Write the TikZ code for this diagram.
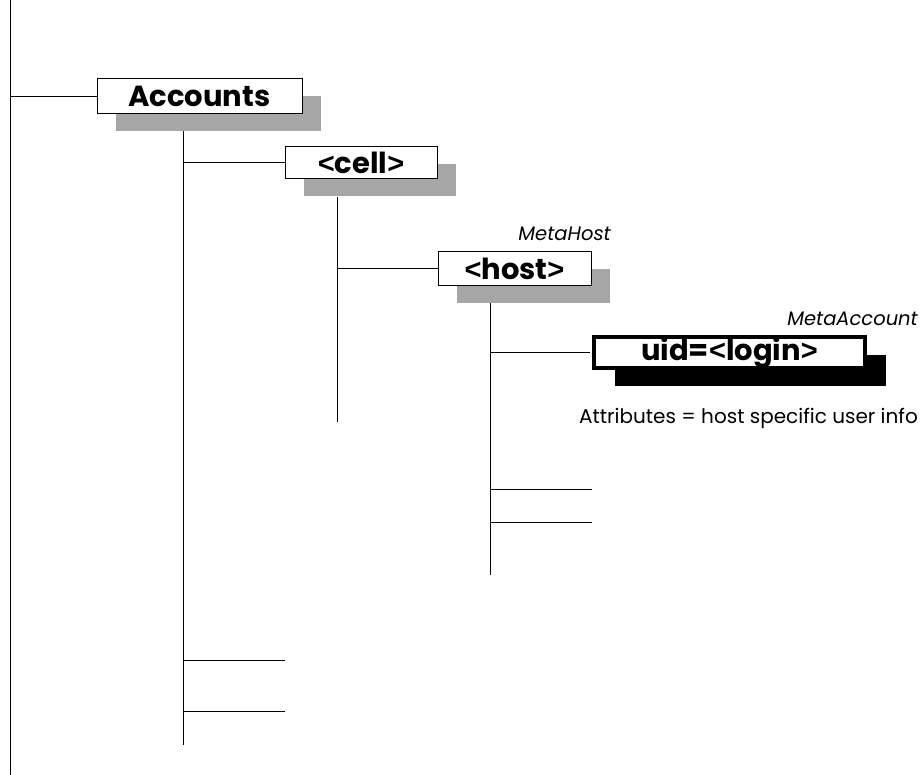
\documentclass[tikz,border=0pt]{standalone}
\usepackage{fontspec}
\setmainfont{Poppins}
\newfontfamily\anglefont{Liberation Sans}
\newcommand\ltsign{{\anglefont<}}
\newcommand\gtsign{{\anglefont>}}
\usetikzlibrary{calc,shadows}
\definecolor{shadowgray}{RGB}{166,166,166}
\tikzset{
  link/.style={line width=1pt, black},
  grayentry/.style={draw, line width=1pt, fill=white, inner sep=0pt,
    font=\bfseries\fontsize{29}{29}\selectfont,
    general shadow={fill=shadowgray, shadow xshift=19pt, shadow yshift=-17pt}},
  blackentry/.style={draw, line width=4pt, fill=white, inner sep=0pt,
    font=\bfseries\fontsize{29}{29}\selectfont,
    general shadow={fill=black, shadow xshift=21pt, shadow yshift=-18pt}},
  classlabel/.style={font=\itshape\fontsize{19.5}{19.5}\selectfont, anchor=base east, inner sep=0pt},
  note/.style={font=\fontsize{20}{20}\selectfont, anchor=base east, inner sep=0pt},
}
\begin{document}
\begin{tikzpicture}[x=1pt,y=-1pt]
\useasboundingbox (0,0) rectangle (920,775);

% entries of the tree
\node[grayentry, minimum width=205pt, minimum height=35pt] (acc) at (199.5,96.5) {Accounts};
\node[grayentry, minimum width=152pt, minimum height=32pt] (cell) at (361,163) {\ltsign cell\gtsign};
\node[grayentry, minimum width=153pt, minimum height=34pt] (host) at (514.5,269) {\ltsign host\gtsign};
\node[blackentry, minimum width=271pt, minimum height=31pt] (uid) at (729.5,352.5) {uid=\ltsign login\gtsign};

% annotations
\node[classlabel] (mh) at (611,241) {MetaHost};
\node[classlabel] (ma) at (918,325) {MetaAccount};
\node[note] (attr) at (918,423) {Attributes = host specific user info};

% trunk lines
\coordinate (root top) at (10,0);
\coordinate (root bot) at (10,775);
\coordinate (acc top) at (183,131);
\coordinate (acc bot) at (183,745);
\coordinate (cell top) at (337,197);
\coordinate (cell bot) at (337,422);
\coordinate (host top) at (490,303);
\coordinate (host bot) at (490,575);

% open branches
\coordinate (acc end1) at (285,660);
\coordinate (acc end2) at (285,711);
\coordinate (host end1) at (592,489);
\coordinate (host end2) at (592,522);

\draw[link] (root top) -- (root bot);
\draw[link] (root top |- acc.west) -- (acc.west);

\draw[link] (acc top) -- (acc bot);
\draw[link] (acc top |- cell.west) -- (cell.west);
\draw[link] (acc top |- acc end1) -- (acc end1);
\draw[link] (acc top |- acc end2) -- (acc end2);

\draw[link] (cell top) -- (cell bot);
\draw[link] (cell top |- host.west) -- (host.west);

\draw[link] (host top) -- (host bot);
\draw[link] (host top |- uid.west) -- ([xshift=-2pt]uid.west);
\draw[link] (host top |- host end1) -- (host end1);
\draw[link] (host top |- host end2) -- (host end2);
\end{tikzpicture}
\end{document}
